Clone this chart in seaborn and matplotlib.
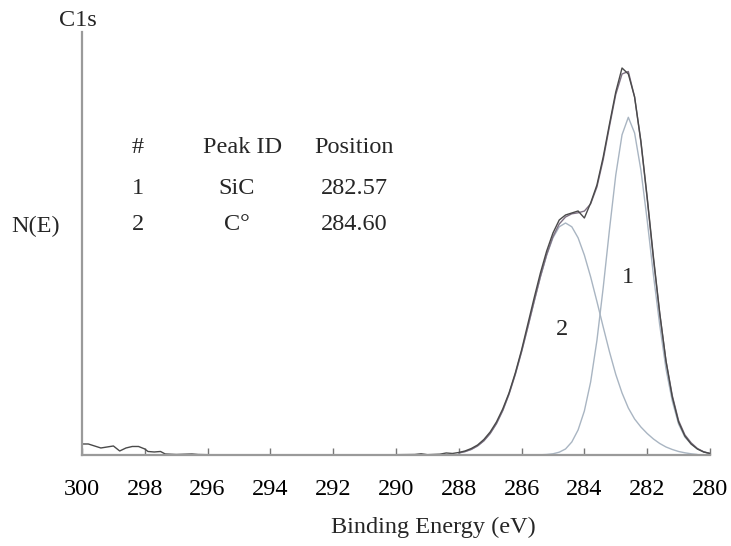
import numpy as np
import pandas as pd
import matplotlib
matplotlib.use("Agg")
import matplotlib.pyplot as plt
import seaborn as sns

# ---------------- data ----------------
# measured spectrum (binding energy, eV) and intensity (arbitrary units)
meas_x = [300.0, 299.8, 299.6, 299.4, 299.2, 299.0, 298.8, 298.6, 298.4, 298.2,
          298.0, 297.9, 297.7, 297.5, 297.35, 297.0, 296.5, 296.3, 296.0, 295.0,
          294.0, 293.0, 292.0, 291.0, 290.0, 289.4, 289.2, 289.0, 288.6, 288.4,
          288.2,
          288.0, 287.8, 287.6, 287.4, 287.2, 287.0, 286.8, 286.6, 286.4, 286.2,
          286.0, 285.8, 285.6, 285.4, 285.2, 285.0, 284.8, 284.6, 284.4, 284.2,
          284.0, 283.8, 283.6, 283.4, 283.2, 283.0, 282.8, 282.6, 282.4, 282.2,
          282.0, 281.8, 281.6, 281.4, 281.2, 281.0, 280.8, 280.6, 280.4, 280.2,
          280.0]
meas_y = [11, 11, 9, 7, 8, 9, 4, 7, 8.5, 8.5,
          6, 3.5, 3, 3.5, 1, 0.5, 1, 0.5, 0.3, 0,
          0.3, 0, 0.2, 0, 0.3, 0.5, 1.2, 0.3, 0.8, 2,
          1.5,
          2.5, 4, 6.5, 10, 15.5, 23, 33, 46, 62, 82,
          105, 131, 157, 182, 204, 222, 235, 240, 242, 244,
          237, 252, 270, 298, 331, 363, 387, 381, 358, 314,
          258, 198, 142, 94, 58, 33, 19, 11, 6, 3,
          1.5]

# fitted envelope (sum of components)
env_x = [288.0, 287.8, 287.6, 287.4, 287.2, 287.0, 286.8, 286.6, 286.4, 286.2,
         286.0, 285.8, 285.6, 285.4, 285.2, 285.0, 284.8, 284.6, 284.4, 284.2,
         284.0, 283.8, 283.6, 283.4, 283.2, 283.0, 282.8, 282.6, 282.4, 282.2,
         282.0, 281.8, 281.6, 281.4, 281.2, 281.0, 280.8, 280.6, 280.4, 280.2,
         280.0]
env_y = [2.0, 3.4, 5.6, 9.1, 14.2, 21.5, 31.4, 44.4, 60.8, 80.6,
         103.2, 128.0, 153.5, 178.3, 200.4, 218.4, 231.0, 238.0, 241.2, 242.2,
         243.9, 251.1, 268.0, 295.3, 328.6, 360.5, 381.0, 383.5, 358.0, 313.0,
         256.5, 196.0, 141.5, 94.0, 59.5, 34.5, 20.2, 12.2, 6.5, 3.2,
         1.5]

# component 1 : SiC
p1_x = [285.6, 285.4, 285.2, 285.0, 284.8, 284.6, 284.4, 284.2, 284.0, 283.8,
        283.6, 283.4, 283.2, 283.0, 282.8, 282.6, 282.4, 282.2, 282.0, 281.8,
        281.6, 281.4, 281.2, 281.0, 280.8, 280.6, 280.4, 280.2, 280.0]
p1_y = [0, 0.2, 0.5, 1.2, 2.8, 6, 13, 25, 44, 73,
        114.5, 167.3, 225.4, 279.9, 320.2, 337.7, 322, 285, 235, 180,
        130, 86, 54, 31, 18, 11, 6, 3, 1.5]

# component 2 : C
p2_x = [288.0, 287.8, 287.6, 287.4, 287.2, 287.0, 286.8, 286.6, 286.4, 286.2,
        286.0, 285.8, 285.6, 285.4, 285.2, 285.0, 284.8, 284.6, 284.4, 284.2,
        284.0, 283.8, 283.6, 283.4, 283.2, 283.0, 282.8, 282.6, 282.4, 282.2,
        282.0, 281.8, 281.6, 281.4, 281.2, 281.0, 280.8, 280.6, 280.4]
p2_y = [2.0, 3.4, 5.6, 9.1, 14.2, 21.5, 31.4, 44.4, 60.8, 80.6,
        103.2, 128.0, 153.5, 178.1, 199.9, 217.2, 228.2, 232.0, 228.2, 217.2,
        199.9, 178.1, 153.5, 128.0, 103.2, 80.6, 62.0, 47.0, 36.0, 28.0,
        21.5, 16.0, 11.5, 8.0, 5.5, 3.5, 2.2, 1.2, 0.5]

x_ticks = [300, 298, 296, 294, 292, 290, 288, 286, 284, 282, 280]

table_header = ["#", "Peak ID", "Position"]
table_num = ["1", "2"]
table_id = ["SiC", "C\u00b0"]
table_pos = ["282.57", "284.60"]
peak_labels = ["1", "2"]
peak_label_pos = [(282.61, 177), (284.71, 125)]

# ---------------- figure ----------------
sns.set_theme(style="white")
plt.rcParams["font.family"] = ["Liberation Serif", "DejaVu Serif"]

fig = plt.figure(figsize=(7.31, 5.46), dpi=100)
ax = fig.add_axes([0.1122, 0.1667, 0.859, 0.7747])

comp_color = "#a9b5c2"
sns.lineplot(x=p2_x, y=p2_y, ax=ax, color=comp_color, lw=1.0, sort=False, estimator=None)
sns.lineplot(x=p1_x, y=p1_y, ax=ax, color=comp_color, lw=1.0, sort=False, estimator=None)
sns.lineplot(x=env_x, y=env_y, ax=ax, color="#7d7082", lw=1.0, sort=False, estimator=None)
sns.lineplot(x=meas_x, y=meas_y, ax=ax, color="#4a4a4a", lw=1.0, sort=False, estimator=None)

ax.set_xlim(300, 280)
ax.set_ylim(0, 423)
ax.set_xticks(x_ticks)
ax.set_xticklabels([str(t) for t in x_ticks])
ax.set_yticks([])
ax.set_xlabel("")
ax.set_ylabel("")

for s in ["top", "right"]:
    ax.spines[s].set_visible(False)
for s in ["left", "bottom"]:
    ax.spines[s].set_color("#9a9a9a")
    ax.spines[s].set_linewidth(1.6)

ax.tick_params(axis="x", direction="in", length=5, width=1.0, color="#777777",
               labelsize=17.5, labelcolor="black", pad=17, bottom=True)

# texts
fig.text(78 / 731, 1 - 20 / 546, "C1s", ha="center", va="center", fontsize=17.5)
fig.text(36 / 731, 1 - 226 / 546, "N(E)", ha="center", va="center", fontsize=17.5)
fig.text(433 / 731, 1 - 527 / 546, "Binding Energy (eV)", ha="center", va="center",
         fontsize=17.5)

col_x = [138, 243, 354]
row_y = [148, 188, 224]
for cx, h in zip(col_x, table_header):
    fig.text(cx / 731, 1 - row_y[0] / 546, h, ha="center", va="center", fontsize=17.5)
for i in range(2):
    fig.text(col_x[0] / 731, 1 - row_y[i + 1] / 546, table_num[i], ha="center", va="center", fontsize=17.5)
    fig.text(237 / 731, 1 - row_y[i + 1] / 546, table_id[i], ha="center", va="center", fontsize=17.5)
    fig.text(col_x[2] / 731, 1 - row_y[i + 1] / 546, table_pos[i], ha="center", va="center", fontsize=17.5)

for lab, (px, py) in zip(peak_labels, peak_label_pos):
    ax.text(px, py, lab, ha="center", va="center", fontsize=17.5)

fig.savefig("out.png", dpi=100, facecolor="white")
